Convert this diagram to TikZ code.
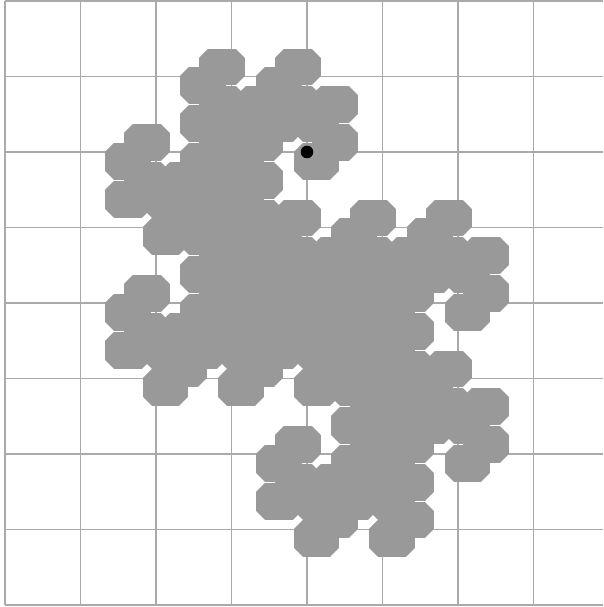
\documentclass[tikz,border=0pt]{standalone}
\usetikzlibrary{lindenmayersystems}
\pgfdeclarelindenmayersystem{Dragon}{
  \rule{X -> X+YF+}
  \rule{Y -> -FX-Y}
}
\definecolor{dragongray}{RGB}{153,153,153}
\definecolor{gridgray}{RGB}{170,170,170}
\tikzset{
  gridline/.style={draw=gridgray, line width=1.2pt},
  dragonline/.style={draw=dragongray, line width=18pt, line join=bevel},
  dotmark/.style={fill=black}
}
\begin{document}
\begin{tikzpicture}[x=1pt,y=1pt]
\useasboundingbox (0,0) rectangle (603,607);
\foreach \k in {0,...,7} {
  \draw[gridline] ({5+75.5*\k},2) -- ({5+75.5*\k},606);
}
\foreach \k in {0,...,8} {
  \draw[gridline] (5,{606-75.5*\k}) -- (603,{606-75.5*\k});
}
\coordinate (A) at (307,455);
\foreach \sx in {-4.5,0,4.5} {
\begin{scope}[shift={(A)}, xshift=\sx, rotate=-90]
\draw[dragonline, lindenmayer system={Dragon, axiom=FXFX, order=8, step=18.875pt, angle=90}]
  (0,0) lindenmayer system -- cycle;
\end{scope}
}
\fill[dotmark] (A) circle (6.3);
\end{tikzpicture}
\end{document}
